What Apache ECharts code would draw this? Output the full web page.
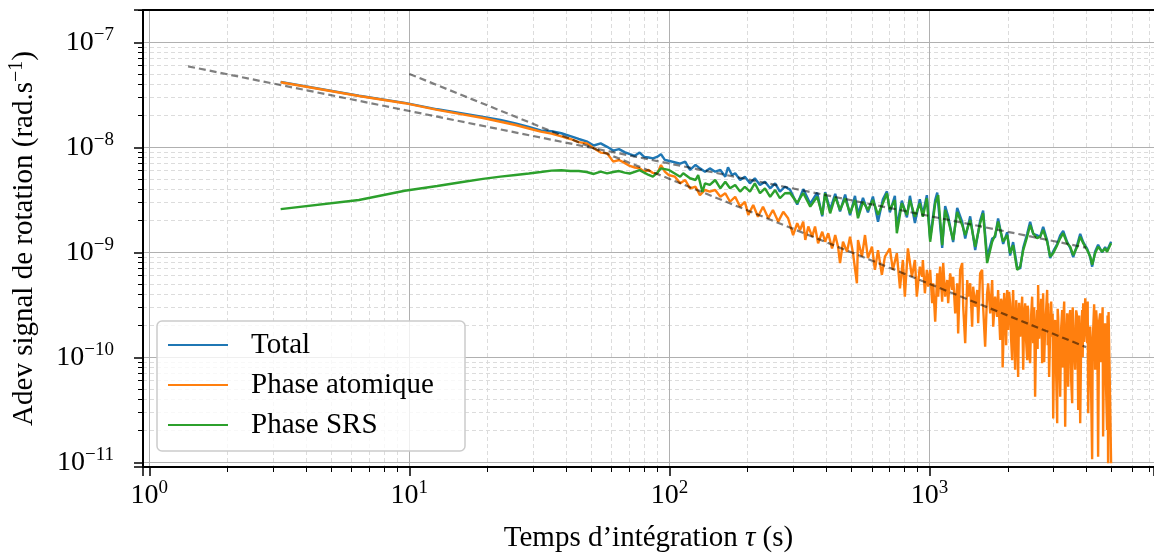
<!DOCTYPE html>
<html>
<head>
<meta charset="utf-8">
<script src="https://cdn.jsdelivr.net/npm/echarts@6/dist/echarts.min.js"></script>
<style>
  html, body { margin: 0; padding: 0; background: #fff; }
  #chart { width: 1154px; height: 553px; }
</style>
</head>
<body>
<div id="chart"></div>
<script>
// Adev du signal de rotation : [tau (s), adev (rad/s)]
const total = [
  [3.2,4.2e-8],[6.4,3.1e-8],[9.6,2.65e-8],[12.8,2.3e-8],[16,2.1e-8],[19.2,1.95e-8],[22.4,1.82e-8],[25.6,1.69e-8],
  [28.8,1.56e-8],[32,1.45e-8],[35.2,1.42e-8],[38.4,1.36e-8],[41.6,1.28e-8],[44.8,1.2e-8],[48,1.14e-8],[51.2,1.04e-8],
  [54.4,1.09e-8],[57.6,1.01e-8],[60.8,9.3e-9],[64,9.6e-9],[67.2,9.0e-9],[70.4,8.6e-9],[73.6,8.3e-9],[76.8,8.9e-9],
  [80,8.1e-9],[83.2,8.0e-9],[86.4,7.85e-9],[89.6,8.1e-9],[92.8,8.6e-9],[96,7.6e-9],[99.2,7.45e-9],
  [110,7.0e-9],[115,7.3e-9],[120,6.1e-9],[126,6.8e-9],[131,6.3e-9],[137,5.85e-9],[143,6.3e-9],[150,5.85e-9],
  [157,6.1e-9],[164,5.25e-9],[168,6.45e-9],[174,5.45e-9],[179,5.66e-9],[187,4.88e-9],[195,5.25e-9],[204,4.54e-9],
  [213,5.07e-9],[223,4.38e-9],[233,4.7e-9],[244,4.07e-9],[255,4.54e-9],[266,3.78e-9],[278,4.21e-9],[291,3.95e-9],
  [310,2.85e-9],[327,4.0e-9],[348,2.9e-9],[370,3.7e-9],[387,2.2e-9],[397,3.75e-9],[415,2.55e-9],[434,3.6e-9],
  [453,2.45e-9],[474,3.55e-9],[495,2.25e-9],[517,3.45e-9],[531,2.3e-9],[555,3.3e-9],[580,2.4e-9],[606,3.4e-9],
  [634,1.95e-9],[662,3.2e-9],[686,3.8e-9],[704,2.4e-9],[736,3.45e-9],[749,1.75e-9],[783,3.1e-9],[819,2.15e-9],
  [841,3.45e-9],[879,1.9e-9],[918,3.2e-9],[943,2.3e-9],[977,3.5e-9],[1006,1.35e-9],[1052,3.15e-9],[1071,3.7e-9],
  [1119,1.1e-9],[1149,2.75e-9],[1180,2.2e-9],[1233,1.25e-9],[1278,2.65e-9],[1336,1.95e-9],[1372,1.35e-9],[1434,2.2e-9],
  [1499,1.05e-9],[1566,2.0e-9],[1608,2.5e-9],[1666,9.0e-10],[1742,1.35e-9],[1788,1.4e-9],[1836,2.1e-9],[1920,1.2e-9],
  [1989,1.55e-9],[2042,9.3e-10],[2097,1.25e-9],[2173,7.2e-10],[2232,7.0e-10],[2293,1.1e-9],[2375,1.5e-9],[2438,1.95e-9],
  [2504,1.5e-9],[2594,1.45e-9],[2664,1.4e-9],[2736,1.75e-9],[2835,1.3e-9],[2911,8.8e-10],[2990,1.02e-9],[3098,1.2e-9],
  [3181,1.45e-9],[3267,1.6e-9],[3385,1.25e-9],[3476,1.1e-9],[3570,9.0e-10],[3698,1.18e-9],[3798,1.5e-9],[3900,1.25e-9],
  [4041,1.08e-9],[4149,9.0e-10],[4222,7.3e-10],[4335,1.02e-9],[4451,1.18e-9],[4612,1.0e-9],[4735,1.12e-9],[4819,1.04e-9],
  [4992,1.26e-9]
];

const phaseAtomique = [
  [3.2,4.16e-8],[6.4,3.08e-8],[9.6,2.63e-8],[12.8,2.27e-8],[16,2.06e-8],[19.2,1.9e-8],[22.4,1.75e-8],[25.6,1.63e-8],
  [28.8,1.51e-8],[32,1.41e-8],[35.2,1.35e-8],[38.4,1.27e-8],[41.6,1.2e-8],[44.8,1.12e-8],[48,1.09e-8],[51.2,9.8e-9],
  [54.4,8.9e-9],[57.6,8.76e-9],[60.8,7.3e-9],[64,7.57e-9],[67.2,7.1e-9],[70.4,6.64e-9],[73.6,6.42e-9],[76.8,6.31e-9],
  [80,5.86e-9],[83.2,6.08e-9],[86.4,5.7e-9],[89.6,5.57e-9],[92.8,6.78e-9],[96,5.86e-9],[99.2,5.45e-9],
  [105,5.25e-9],[110,4.54e-9],[115,4.88e-9],[120,4.07e-9],[126,4.21e-9],[131,3.5e-9],[137,3.92e-9],[143,3.78e-9],
  [150,3.92e-9],[157,3.38e-9],[164,3.65e-9],[171,3.03e-9],[179,3.38e-9],[187,2.72e-9],[195,3.03e-9],[201,2.27e-9],
  [210,2.82e-9],[219,2.18e-9],[229,2.72e-9],[240,2.11e-9],[250,2.53e-9],[262,1.96e-9],[274,2.43e-9],[286,2.11e-9],
  [291,2.03e-9],[299,1.46e-9],[310,1.89e-9],[318,1.63e-9],[327,1.96e-9],[333,1.31e-9],[342,1.76e-9],[354,1.41e-9],
  [363,1.76e-9],[373,1.22e-9],[387,1.57e-9],[397,1.26e-9],[408,1.52e-9],[422,1.09e-9],[434,1.46e-9],[445,1.13e-9],
  [453,7.9e-10],[465,1.26e-9],[482,1.01e-9],[495,1.41e-9],[508,9.8e-10],[526,5.07e-10],[531,1.31e-9],[550,9.1e-10],
  [565,1.46e-9],[580,8.8e-10],[601,1.13e-9],[617,6.8e-10],[634,1.05e-9],[656,6.1e-10],[674,9.1e-10],[704,1.09e-9],
  [723,6.8e-10],[749,9.8e-10],[770,4.54e-10],[790,8.45e-10],[804,3.78e-10],[826,1.09e-9],[856,5.85e-10],[879,8.45e-10],
  [894,3.78e-10],[918,7.3e-10],[937,5.85e-10],[943,8.45e-10],[960,4.07e-10],[977,6.8e-10],[989,4.7e-10],[1006,6.8e-10],
  [1024,3.27e-10],[1033,5.07e-10],[1052,2.18e-10],[1071,6.3e-10],[1080,3.78e-10],[1099,7.3e-10],[1119,3.38e-10],[1129,7.9e-10],
  [1149,3.78e-10],[1170,5.45e-10],[1180,3.27e-10],[1201,6.3e-10],[1223,4.38e-10],[1233,5.85e-10],[1256,2.62e-10],[1278,5.07e-10],
  [1289,1.69e-10],[1312,6.8e-10],[1336,7.9e-10],[1348,3.03e-10],[1372,1.36e-10],[1397,5.45e-10],[1409,3.78e-10],[1434,5.07e-10],
  [1459,1.96e-10],[1472,4.7e-10],[1499,3.03e-10],[1526,4.38e-10],[1539,2.11e-10],[1566,6.3e-10],[1594,6.8e-10],[1608,3.03e-10],
  [1637,1.26e-10],[1666,4.07e-10],[1681,5.07e-10],[1712,2.62e-10],[1742,5.45e-10],[1758,1.96e-10],[1788,3.78e-10],[1820,2.43e-10],
  [1836,4.38e-10],[1870,1.46e-10],[1886,3.6e-10],[1903,3.27e-10],[1911,8e-11],[1920,1.17e-10],[1937,4.1e-10],[1954,3.03e-10],
  [1971,1.3e-10],[1989,4.38e-10],[1998,2.6e-10],[2007,1.82e-10],[2024,4.2e-10],[2042,3.27e-10],[2060,1.5e-10],[2079,9.4e-11],
  [2088,3.0e-10],[2097,4.38e-10],[2116,1.9e-10],[2135,7.6e-11],[2154,3.5e-10],[2173,2.43e-10],[2182,1.2e-10],[2192,6.5e-11],
  [2212,3.3e-10],[2232,1.57e-10],[2252,2.4e-10],[2272,3.78e-10],[2282,1.6e-10],[2293,7.6e-11],[2313,2.6e-10],[2333,3.27e-10],
  [2354,1.4e-10],[2375,9.4e-11],[2385,3.1e-10],[2396,2.82e-10],[2417,1.1e-10],[2438,8.8e-11],[2460,2.5e-10],[2482,3.78e-10],
  [2493,2.0e-10],[2504,1.36e-10],[2526,3.0e-10],[2548,4.21e-11],[2571,1.8e-10],[2594,2.82e-10],[2605,1.2e-10],[2617,4.88e-10],
  [2640,1.5e-10],[2664,2.27e-10],[2688,3.6e-10],[2712,8.8e-11],[2724,2.2e-10],[2736,4.07e-10],[2760,9e-11],[2785,1.96e-10],
  [2810,2.9e-10],[2835,4.38e-10],[2848,1.3e-10],[2860,3.27e-10],[2885,6.5e-11],[2911,1.82e-10],[2937,3.4e-10],[2963,1.57e-10],
  [2976,2.6e-10],[2990,2.62e-11],[3016,1.4e-10],[3043,2.27e-10],[3070,7e-11],[3098,2.35e-11],[3111,2.9e-10],[3125,2.43e-10],
  [3153,1.1e-10],[3181,4.21e-11],[3209,1.9e-10],[3238,2.82e-10],[3252,8e-11],[3267,2.11e-10],[3296,3.4e-10],[3325,2.18e-11],
  [3355,1.5e-10],[3385,2.62e-10],[3400,1.1e-10],[3415,5.25e-11],[3445,2.3e-10],[3476,2.82e-10],[3507,6e-11],[3538,3.65e-11],
  [3554,3.0e-10],[3570,2.27e-10],[3601,1.2e-10],[3633,7.6e-11],[3665,2.8e-10],[3698,2.43e-10],[3714,1.0e-10],[3731,3.15e-11],
  [3764,2.5e-10],[3798,2.35e-11],[3832,1.6e-10],[3866,2.82e-10],[3883,1.0e-10],[3900,3.27e-10],[3935,1.4e-10],[3970,3.65e-10],
  [4005,2.0e-10],[4041,1.36e-10],[4058,3.4e-10],[4076,2.93e-11],[4112,1.1e-10],[4149,1.96e-10],[4185,4.5e-11],[4222,1.07e-11],
  [4241,1.5e-10],[4260,1.82e-10],[4297,3.2e-10],[4335,7.6e-11],[4374,2.8e-10],[4413,1.96e-10],[4432,6e-11],[4451,1.13e-11],
  [4491,2.2e-10],[4531,2.62e-10],[4571,9e-11],[4612,1.96e-10],[4632,3.0e-10],[4652,1.76e-11],[4693,1.6e-10],[4735,2.11e-10],
  [4777,5e-11],[4819,2.03e-11],[4840,2.5e-10],[4862,9.8e-12],[4883,2.7e-10],[4905,1.36e-10],[4948,4.0e-11],[4992,9.8e-12]
];

const phaseSRS = [
  [3.2,2.58e-9],[6.4,3.15e-9],[9.6,3.86e-9],[12.8,4.28e-9],[16,4.67e-9],[19.2,5.0e-9],[22.4,5.25e-9],[25.6,5.45e-9],
  [28.8,5.63e-9],[32,5.82e-9],[35.2,6.0e-9],[38.4,6.04e-9],[41.6,5.94e-9],[44.8,5.94e-9],[48,5.82e-9],[51.2,5.57e-9],
  [54.4,5.86e-9],[57.6,5.65e-9],[60.8,5.82e-9],[64,5.94e-9],[67.2,5.73e-9],[70.4,5.63e-9],[73.6,5.82e-9],[76.8,6.06e-9],
  [80,5.73e-9],[83.2,5.45e-9],[86.4,5.25e-9],[89.6,5.7e-9],[92.8,6.3e-9],[96,6.2e-9],[99.2,6.1e-9],
  [110,5.25e-9],[113,5.66e-9],[120,5.07e-9],[126,4.88e-9],[129,5.45e-9],[134,3.75e-9],[137,4.54e-9],[143,4.38e-9],
  [150,4.88e-9],[157,4.07e-9],[164,4.7e-9],[171,4.07e-9],[179,4.38e-9],[187,3.78e-9],[195,4.21e-9],[204,3.78e-9],
  [213,4.54e-9],[223,3.65e-9],[233,4.07e-9],[244,3.38e-9],[255,3.92e-9],[266,3.27e-9],[278,3.65e-9],[291,3.67e-9],
  [310,2.95e-9],[327,3.67e-9],[348,2.72e-9],[370,3.38e-9],[387,2.27e-9],[397,3.65e-9],[415,2.35e-9],[434,3.38e-9],
  [453,2.53e-9],[474,3.27e-9],[495,2.35e-9],[517,3.15e-9],[531,2.11e-9],[555,3.03e-9],[580,2.53e-9],[606,3.15e-9],
  [634,2.27e-9],[662,2.93e-9],[686,3.65e-9],[704,2.53e-9],[736,3.15e-9],[749,1.52e-9],[783,2.93e-9],[819,2.27e-9],
  [841,3.15e-9],[879,2.18e-9],[918,2.93e-9],[943,2.18e-9],[977,3.27e-9],[1006,1.26e-9],[1052,2.93e-9],[1080,3.5e-9],
  [1119,1.17e-9],[1149,2.53e-9],[1180,2.03e-9],[1233,1.31e-9],[1278,2.43e-9],[1336,1.82e-9],[1372,1.46e-9],[1434,2.03e-9],
  [1499,1.13e-9],[1566,1.89e-9],[1608,2.35e-9],[1666,7.9e-10],[1742,1.26e-9],[1788,1.46e-9],[1836,1.96e-9],[1920,1.26e-9],
  [1989,1.46e-9],[2042,9.8e-10],[2097,1.17e-9],[2173,6.8e-10],[2232,7.3e-10],[2293,1.05e-9],[2375,1.41e-9],[2438,1.82e-9],
  [2504,1.52e-9],[2594,1.36e-9],[2664,1.41e-9],[2736,1.63e-9],[2835,1.26e-9],[2911,9.1e-10],[2990,9.8e-10],[3098,1.17e-9],
  [3181,1.36e-9],[3267,1.52e-9],[3385,1.22e-9],[3476,1.13e-9],[3570,9.4e-10],[3698,1.13e-9],[3798,1.41e-9],[3900,1.22e-9],
  [4041,1.05e-9],[4149,9.1e-10],[4222,7.6e-10],[4335,9.8e-10],[4451,1.13e-9],[4612,1.01e-9],[4735,1.09e-9],[4819,1.01e-9],
  [4992,1.22e-9]
];

// droites de pente -1/2 et -1 (pointillés)
const fitBruitBlanc = [[1.41, 5.9e-8], [4000, 1.107e-9]];
const fitPenteUn = [[10, 5e-8], [4000, 1.25e-10]];

const seriesNames = ['Total', 'Phase atomique', 'Phase SRS'];
const seriesColors = ['#1f77b4', '#ff7f0e', '#2ca02c'];
const xTickExponents = [0, 1, 2, 3];
const yTickExponents = [-11, -10, -9, -8, -7];
const xRange = [0.9458, 7300];
const yRange = [9.02e-12, 2.03e-7];

const FONT = 'Liberation Serif';
const chart = echarts.init(document.getElementById('chart'));

function powLabel(exps) {
    return function (value) {
        const l = Math.log10(value);
        const e = Math.round(l);
        if (Math.abs(l - e) > 1e-6 || exps.indexOf(e) < 0) return '';
        return '{b|10}{sup|' + String(e).replace('-', '\u2212') + '}';
    };
}

const labelRich = {
    b: { fontFamily: FONT, fontSize: 28, color: '#000' },
    sup: { fontFamily: FONT, fontSize: 19, color: '#000', padding: [0, 0, 14, 0] }
};

function logAxis(range, exps, extra) {
    return Object.assign({
        type: 'log',
        logBase: 10,
        min: range[0],
        max: range[1],
        axisLine: { show: true, lineStyle: { color: '#000', width: 2 } },
        axisTick: { show: true, length: 9, lineStyle: { color: '#000', width: 1.5 } },
        minorTick: { show: true, splitNumber: 9, length: 5, lineStyle: { color: '#000', width: 1 } },
        splitLine: { show: true, lineStyle: { color: '#b0b0b0', width: 1 } },
        minorSplitLine: { show: true, lineStyle: { color: '#dcdcdc', width: 1, type: [4, 3] } },
        axisLabel: { formatter: powLabel(exps), rich: labelRich, showMinLabel: false, showMaxLabel: false }
    }, extra);
}

function dataSeries(name, data, color) {
    return {
        name: name, type: 'line', data: data,
        showSymbol: false, symbol: 'none', color: color,
        lineStyle: { color: color, width: 2.4 },
        emphasis: { disabled: true }, z: 3
    };
}

function fitSeries(data) {
    return {
        type: 'line', data: data, showSymbol: false, symbol: 'none',
        lineStyle: { color: 'rgba(0,0,0,0.5)', width: 2.2, type: [7, 4] },
        emphasis: { disabled: true }, z: 4
    };
}

const option = {
    animation: false,
    backgroundColor: '#fff',
    grid: { left: 143, right: 0, top: 10, bottom: 86, outerBoundsMode: 'none' },
    legend: {
        data: seriesNames,
        orient: 'vertical',
        left: 157, top: 321,
        icon: 'rect', itemWidth: 60, itemHeight: 2, itemGap: 10,
        padding: [9, 12, 11, 11],
        backgroundColor: 'rgba(255,255,255,0.8)',
        borderColor: '#cccccc', borderWidth: 1.5, borderRadius: 5,
        selectedMode: false,
        textStyle: { fontFamily: FONT, fontSize: 29, color: '#000', lineHeight: 30, padding: [0, 0, 0, 18], width: 202 }
    },
    xAxis: [
        logAxis(xRange, xTickExponents, {
            position: 'bottom',
            axisLabel: { formatter: powLabel(xTickExponents), rich: labelRich, margin: 12, showMinLabel: false, showMaxLabel: false },
            name: '{n|Temps d\u2019int\u00e9gration }{i|\u03c4}{n| (s)}',
            nameLocation: 'middle', nameGap: 57,
            nameTextStyle: { rich: {
                n: { fontFamily: FONT, fontSize: 29, color: '#000' },
                i: { fontFamily: FONT, fontSize: 29, color: '#000', fontStyle: 'italic' }
            } }
        }),
        {
            type: 'log', logBase: 10, position: 'top', min: xRange[0], max: xRange[1],
            axisLine: { show: true, lineStyle: { color: '#000', width: 2 } },
            axisTick: { show: false }, axisLabel: { show: false }, splitLine: { show: false }
        }
    ],
    yAxis: logAxis(yRange, yTickExponents, {
        position: 'left',
        axisLabel: { formatter: powLabel(yTickExponents), rich: labelRich, margin: 29, showMinLabel: false, showMaxLabel: false },
        name: '{n|Adev signal de rotation (rad.s}{sup|\u22121}{n|)}',
        nameLocation: 'middle', nameGap: 102, nameRotate: 90,
        nameTextStyle: { rich: {
            n: { fontFamily: FONT, fontSize: 29, color: '#000' },
            sup: { fontFamily: FONT, fontSize: 20, color: '#000', padding: [0, 0, 14, 0] }
        } }
    }),
    series: [
        dataSeries(seriesNames[0], total, seriesColors[0]),
        dataSeries(seriesNames[1], phaseAtomique, seriesColors[1]),
        dataSeries(seriesNames[2], phaseSRS, seriesColors[2]),
        fitSeries(fitBruitBlanc),
        fitSeries(fitPenteUn)
    ]
};

chart.setOption(option);
</script>
</body>
</html>
